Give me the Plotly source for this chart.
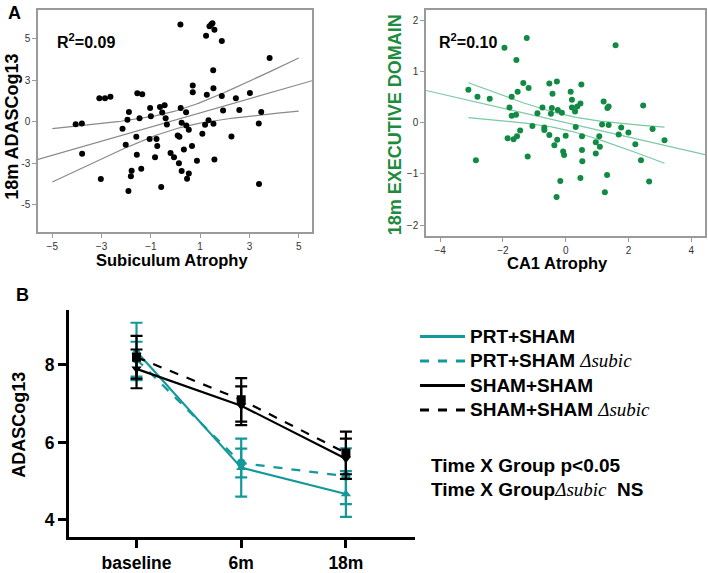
import numpy as np
import plotly.graph_objects as go

# ---------------- Panel A (left): Subiculum atrophy vs 18m ADASCog13 ----------------
subic_x = [-4.05, -3.80, -3.79, -3.09, -2.86, -2.64, -3.03, -2.15, -2.02, -1.95,
           -1.89, -1.91, -1.81, -1.78, -1.55, -1.35, -1.59, -1.57, -1.46, -1.39,
           -1.05, -1.03, -1.00, -0.83, -0.77, -0.74, -0.63, -0.54, -0.44, -0.40,
           -0.35, -0.58, -0.20, -0.06, 0.09, 0.16, 0.14, 0.21, 0.25, 0.25,
           0.20, 0.34, 0.43, 0.44, 0.47, 0.54, 0.54, 0.67, 0.70, 0.70,
           0.87, 1.09, 1.24, 1.20, 1.27, 1.34, 1.38, 1.45, 1.50, 1.58,
           1.53, 1.54, 1.54, 1.58, 1.88, 1.88, 1.93, 2.27, 2.45, 2.59,
           3.02, 3.38, 3.39, 3.48, 3.82]
adas_y = [-0.15, -0.11, -1.93, 1.41, 1.41, 1.51, -3.46, -0.43, -1.39, 0.11,
          0.59, -4.18, -3.29, -2.96, 1.71, 1.65, -0.91, -2.00, 0.21, -2.84,
          -1.05, 0.82, 0.33, -2.14, -1.05, -1.47, 0.89, 0.55, 0.99, 0.21,
          -0.17, -3.94, -1.89, -2.14, -0.83, -0.91, -2.50, 0.82, -0.07, -2.98,
          5.86, -1.67, 0.57, -0.23, -3.44, -3.12, -0.49, -1.47, 2.18, 1.77,
          -2.36, -0.73, 5.18, -0.19, 1.63, 0.09, 5.76, 5.86, 5.94, 5.54,
          3.10, 2.02, -0.13, -2.28, 4.86, 1.55, 0.67, -0.89, 1.41, 0.71,
          1.73, -0.11, -3.76, 0.59, 3.84]

# ---------------- Panel A (right): CA1 atrophy vs 18m executive domain ----------------
ca1_x = [-3.10, -2.81, -2.86, -2.42, -1.95, -1.79, -1.72, -1.72, -1.85, -1.66,
         -1.58, -1.57, -1.53, -1.55, -1.45, -1.35, -1.24, -1.18, -1.21, -1.06,
         -0.90, -0.74, -0.68, -0.68, -0.52, -0.52, -0.47, -0.44, -0.42, -0.36,
         -0.28, -0.25, -0.27, -0.29, -0.17, -0.12, -0.08, -0.05, 0.00, 0.16,
         0.20, 0.20, 0.30, 0.32, 0.37, 0.47, 0.47, 0.50, 0.52, 0.52,
         0.53, 0.96, 0.96, 1.07, 1.09, 1.16, 1.21, 1.25, 1.32, 1.33,
         1.37, 1.37, 1.59, 1.69, 1.77, 2.00, 2.22, 2.40, 2.47, 2.66,
         2.77, 3.15]
exec_y = [0.65, 0.51, -0.73, 0.47, 1.47, 0.30, 0.51, 0.14, -0.30, -0.32,
          0.16, 1.23, 0.61, -0.26, -0.15, 0.78, 1.66, 0.68, -0.66, -0.06,
          0.19, 0.30, -0.09, -0.14, 0.77, -0.24, 0.18, 0.29, 0.57, -0.44,
          0.81, 0.25, -0.33, -1.45, -1.14, 0.20, -0.56, -0.63, -0.25, 0.61,
          0.45, 0.30, 0.22, -0.08, 0.32, 0.38, -1.08, 0.75, -0.26, -0.53,
          -0.75, -0.38, -0.60, -0.26, -0.47, -0.03, 0.42, -1.36, -1.02, 0.29,
          0.32, -0.04, 1.52, -0.23, -0.09, -0.19, -0.42, -0.73, 0.34, -1.15,
          -0.12, -0.34]

# ---------------- Panel B: ADASCog13 over time ----------------
timepoints = ["baseline", "6m", "18m"]
prt_mean = [8.35, 5.35, 4.67]
prt_err = [0.74, 0.75, 0.59]
prt_d_mean = [8.15, 5.47, 5.13]
prt_d_err = [0.45, 0.37, 0.72]
sham_mean = [7.90, 6.95, 5.58]
sham_err = [0.50, 0.50, 0.52]
sham_d_mean = [8.20, 7.10, 5.73]
sham_d_err = [0.55, 0.56, 0.55]

legend_names = ["PRT+SHAM", "PRT+SHAM Δsubic", "SHAM+SHAM", "SHAM+SHAM Δsubic"]

W, H = 708, 573
TEAL = "#14999b"
GREEN_PT = "#118a44"
GREEN_LINE = "#79c9a3"
GREEN_TXT = "#1e8c3e"
GREY_LINE = "#8a8a8a"
FONT = "Liberation Sans"


def px(x):
    return x / W


def py(y):
    return 1 - y / H


def fit_band(x, y, xs, t=1.99):
    x = np.asarray(x, float)
    y = np.asarray(y, float)
    n = len(x)
    b, a = np.polyfit(x, y, 1)
    res = y - (a + b * x)
    s = np.sqrt(np.sum(res ** 2) / (n - 2))
    sxx = np.sum((x - x.mean()) ** 2)
    fit = a + b * xs
    hw = t * s * np.sqrt(1 / n + (xs - x.mean()) ** 2 / sxx)
    return fit, fit + hw, fit - hw


fig = go.Figure()

# ----- left scatter -----
L_XR = [-5.58, 5.54]
L_YR = [-6.64, 6.74]
xs_full = np.linspace(L_XR[0], L_XR[1], 50)
xs_band = np.linspace(-5, 5, 80)
fit_full, _, _ = fit_band(subic_x, adas_y, xs_full)
_, up_l, lo_l = fit_band(subic_x, adas_y, xs_band)
for xx, yy in [(xs_full, fit_full), (xs_band, up_l), (xs_band, lo_l)]:
    fig.add_trace(go.Scatter(x=xx, y=yy, mode="lines", line=dict(color=GREY_LINE, width=1.2),
                             xaxis="x", yaxis="y", showlegend=False, hoverinfo="skip"))
fig.add_trace(go.Scatter(x=subic_x, y=adas_y, mode="markers",
                         marker=dict(color="black", size=6), xaxis="x", yaxis="y", showlegend=False))

# ----- right scatter -----
R_XR = [-4.45, 4.44]
R_YR = [-2.21, 2.21]
xs_full_r = np.linspace(R_XR[0], R_XR[1], 50)
xs_band_r = np.linspace(min(ca1_x), max(ca1_x), 80)
fit_full_r, _, _ = fit_band(ca1_x, exec_y, xs_full_r)
_, up_r, lo_r = fit_band(ca1_x, exec_y, xs_band_r)
for xx, yy in [(xs_full_r, fit_full_r), (xs_band_r, up_r), (xs_band_r, lo_r)]:
    fig.add_trace(go.Scatter(x=xx, y=yy, mode="lines", line=dict(color=GREEN_LINE, width=1.2),
                             xaxis="x2", yaxis="y2", showlegend=False, hoverinfo="skip"))
fig.add_trace(go.Scatter(x=ca1_x, y=exec_y, mode="markers",
                         marker=dict(color=GREEN_PT, size=6), xaxis="x2", yaxis="y2", showlegend=False))

# ----- panel B -----
series = [
    (prt_mean, prt_err, TEAL, "solid", "triangle-up"),
    (prt_d_mean, prt_d_err, TEAL, "dash", "circle"),
    (sham_mean, sham_err, "black", "solid", "triangle-down"),
    (sham_d_mean, sham_d_err, "black", "dash", "square"),
]
for mean, err, col, dash, sym in series:
    fig.add_trace(go.Scatter(
        x=timepoints, y=mean, mode="lines+markers",
        line=dict(color=col, width=2.2, dash=dash),
        marker=dict(color=col, size=9, symbol=sym),
        error_y=dict(type="data", array=err, visible=True, color=col, thickness=2.2, width=6),
        xaxis="x3", yaxis="y3", showlegend=False))

serif = "<span style=\"font-family:'Liberation Serif';font-style:italic;font-weight:normal\">"
big = "<span style=\"font-size:19px\">"
for name, (_, _, col, dash, _) in zip(legend_names, series):
    if "Δsubic" in name:
        base = name.replace(" Δsubic", "")
        label = big + "<b>" + base + " </b>" + serif + "Δsubic</span></span>"
    else:
        label = big + "<b>" + name + "</b></span>"
    fig.add_trace(go.Scatter(x=[None], y=[None], mode="lines", name=label,
                             line=dict(color=col, width=3, dash=dash),
                             xaxis="x3", yaxis="y3", showlegend=True))

sc_ax = dict(showline=True, linecolor="#9a9a9a", linewidth=1.5, mirror=True,
             ticks="outside", ticklen=4, tickcolor="#9a9a9a", tickwidth=1,
             showgrid=False, zeroline=False,
             tickfont=dict(family=FONT, size=10, color="#333333"))

b_ax = dict(showline=True, linecolor="black", linewidth=3, mirror=False,
            ticks="outside", ticklen=8, tickcolor="black", tickwidth=2.5,
            showgrid=False, zeroline=False,
            tickfont=dict(family=FONT, size=17.5, color="black", weight="bold"))

fig.update_layout(
    width=W, height=H, margin=dict(l=0, r=0, t=0, b=0),
    paper_bgcolor="white", plot_bgcolor="white",
    font=dict(family=FONT, color="black"),
    xaxis=dict(domain=[px(38), px(312)], range=L_XR, tickvals=[-5, -3, -1, 1, 3, 5],
               anchor="y", **sc_ax),
    yaxis=dict(domain=[py(233), py(10)], range=L_YR, tickvals=[-5, -2.5, 0, 2.5, 5],
               ticktext=["-5", "-3", "0", "3", "5"], anchor="x", **sc_ax),
    xaxis2=dict(domain=[px(426), px(705)], range=R_XR, tickvals=[-4, -2, 0, 2, 4],
                anchor="y2", **sc_ax),
    yaxis2=dict(domain=[py(237), py(10)], range=R_YR, tickvals=[-2, -1, 0, 1, 2],
                anchor="x2", **sc_ax),
    xaxis3=dict(domain=[px(69), px(415)], range=[-0.645, 2.66], type="category",
                anchor="y3", **b_ax),
    yaxis3=dict(domain=[py(540), py(312)], range=[3.555, 9.41], tickvals=[4, 6, 8],
                anchor="x3", **b_ax),
    legend=dict(x=px(415), y=py(321), xanchor="left", yanchor="top",
                font=dict(family=FONT, size=16.5, color="black"),
                bgcolor="rgba(0,0,0,0)", itemwidth=45, tracegroupgap=0),
    showlegend=True,
)

ann = [
    dict(text="<b>A</b>", x=px(14), y=py(13), size=18, color="black", angle=0),
    dict(text="<b>B</b>", x=px(22), y=py(297), size=18, color="black", angle=0),
    dict(text="<b>18m ADASCog13</b>", x=px(12.5), y=py(128), size=18, color="black", angle=-90),
    dict(text="<b>Subiculum Atrophy</b>", x=px(172), y=py(261), size=16.5, color="black", angle=0),
    dict(text="<b>18m EXECUTIVE DOMAIN</b>", x=px(395), y=py(126), size=18, color=GREEN_TXT, angle=-90),
    dict(text="<b>CA1 Atrophy</b>", x=px(557), y=py(264), size=16.5, color="black", angle=0),
    dict(text="<b>ADASCog13</b>", x=px(19), y=py(427), size=18, color="black", angle=-90),
]
for a in ann:
    fig.add_annotation(text=a["text"], x=a["x"], y=a["y"], xref="paper", yref="paper",
                       xanchor="center", yanchor="middle", showarrow=False, textangle=a["angle"],
                       font=dict(family=FONT, size=a["size"], color=a["color"]))

fig.add_annotation(text="<b>R<sup>2</sup>=0.09</b>", x=px(55), y=py(41), xref="paper", yref="paper",
                   xanchor="left", yanchor="middle", showarrow=False,
                   font=dict(family=FONT, size=16, color="black"))
fig.add_annotation(text="<b>R<sup>2</sup>=0.10</b>", x=px(437), y=py(41), xref="paper", yref="paper",
                   xanchor="left", yanchor="middle", showarrow=False,
                   font=dict(family=FONT, size=16, color="black"))
fig.add_annotation(text="<b>Time X Group p&lt;0.05</b>", x=px(429), y=py(468), xref="paper", yref="paper",
                   xanchor="left", yanchor="middle", showarrow=False,
                   font=dict(family=FONT, size=19, color="black"))
fig.add_annotation(text="<b>Time X Group</b>" + serif + "Δsubic</span><b>  NS</b>",
                   x=px(429), y=py(492), xref="paper", yref="paper",
                   xanchor="left", yanchor="middle", showarrow=False,
                   font=dict(family=FONT, size=19, color="black"))

# remove the browser's default 8px body margin so the figure fills the window
fig.write_html("out.html", config={"displayModeBar": False},
               post_script="document.body.style.margin='0';")
